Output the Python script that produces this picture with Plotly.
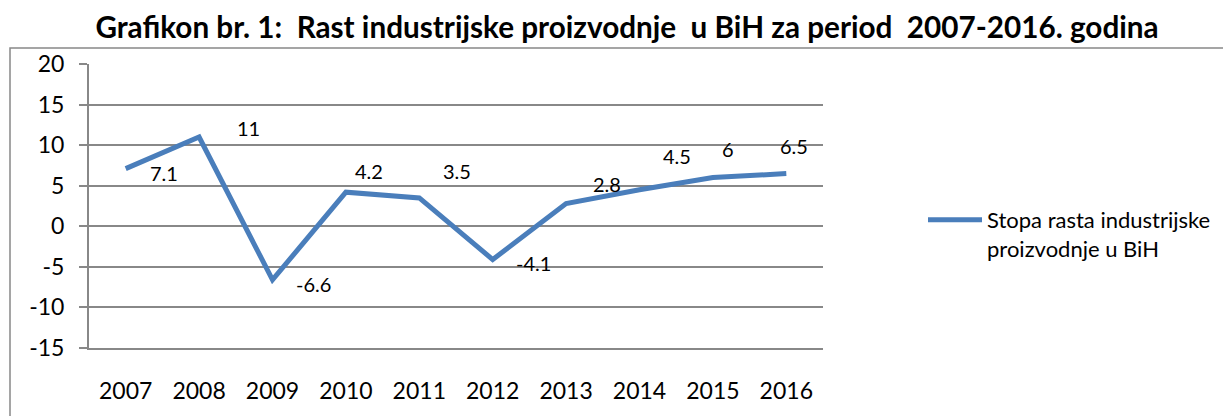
import plotly.graph_objects as go

years = ["2007", "2008", "2009", "2010", "2011", "2012", "2013", "2014", "2015", "2016"]
growth = [7.1, 11, -6.6, 4.2, 3.5, -4.1, 2.8, 4.5, 6, 6.5]
label_text = ["7.1", "11", "-6.6", "4.2", "3.5", "-4.1", "2.8", "4.5", "6", "6.5"]
y_ticks = [-15, -10, -5, 0, 5, 10, 15, 20]
y_tick_text = ["-15", "-10", "-5", "0", "5", "10", "15", "20"]

series_name = "Stopa rasta industrijske<br>proizvodnje u BiH"
title_text = ("Grafikon br. 1:\u00a0 Rast industrijske proizvodnje\u00a0 u BiH za period\u00a0 "
              "2007-2016. godina")

# label offsets in pixels (dx right, dy down) as placed in the reference
label_dx = [38, 49, 41, 23, 38, 41, 41, 37, 15, 8]
label_dy = [4, -9, 4, -21, -27, 3, -20, -34, -29, -28]

FONT = "Lato"
GRID = "#888888"
LINE = "#4A7EBB"

# page body has an 8px margin, so the figure is drawn 8px in from the window edge
OFF = 8
W, H = 1231 - OFF, 416 - OFF
L, T = 89 - OFF, 64 - OFF
pw, ph = 734, 284
R, B = W - L - pw, H - T - ph


def px_x(win_x):
    return (win_x - 89) / pw


def px_y(win_y):
    return (348 - win_y) / ph


fig = go.Figure()
fig.add_trace(go.Scatter(
    x=years, y=growth, mode="lines", name=series_name,
    line=dict(color=LINE, width=5), showlegend=True,
))

for i, (v, t, dx, dy) in enumerate(zip(growth, label_text, label_dx, label_dy)):
    fig.add_annotation(x=i, y=v, xref="x", yref="y", text=t, showarrow=False,
                       xshift=dx, yshift=-dy, xanchor="center", yanchor="middle",
                       font=dict(family=FONT, size=20, color="#000000"))

# outer chart border (left and top visible)
fig.add_shape(type="rect", xref="paper", yref="paper",
              x0=px_x(10), x1=px_x(1240), y0=px_y(430), y1=px_y(48),
              line=dict(color=GRID, width=1.5), layer="below")

fig.update_layout(
    width=W, height=H,
    margin=dict(l=L, r=R, t=T, b=B),
    paper_bgcolor="white", plot_bgcolor="white",
    font=dict(family=FONT, color="#000000"),
    title=dict(text="<b>" + title_text + "</b>", x=(627 - OFF) / W, xanchor="center",
               y=1 - (27.5 - OFF) / H, yanchor="middle", xref="container", yref="container",
               font=dict(family=FONT, size=29.7, color="#000000")),
    xaxis=dict(type="category", range=[-0.5, 9.5], showgrid=False, zeroline=False,
               showline=True, linecolor=GRID, linewidth=2, ticks="",
               tickfont=dict(family=FONT, size=23), ticklabelstandoff=21),
    yaxis=dict(range=[-15, 20], tickvals=y_ticks, ticktext=y_tick_text,
               showgrid=True, gridcolor=GRID, gridwidth=2,
               zeroline=False, showline=True, linecolor=GRID, linewidth=2,
               ticks="outside", ticklen=8, tickwidth=2, tickcolor=GRID,
               tickfont=dict(family=FONT, size=23), ticklabelstandoff=10),
    legend=dict(x=px_x(923), xanchor="left", y=px_y(199), yanchor="top",
                valign="top", itemwidth=54, font=dict(family=FONT, size=22),
                bgcolor="rgba(0,0,0,0)", borderwidth=0),
)

fig.write_html("out.html")
